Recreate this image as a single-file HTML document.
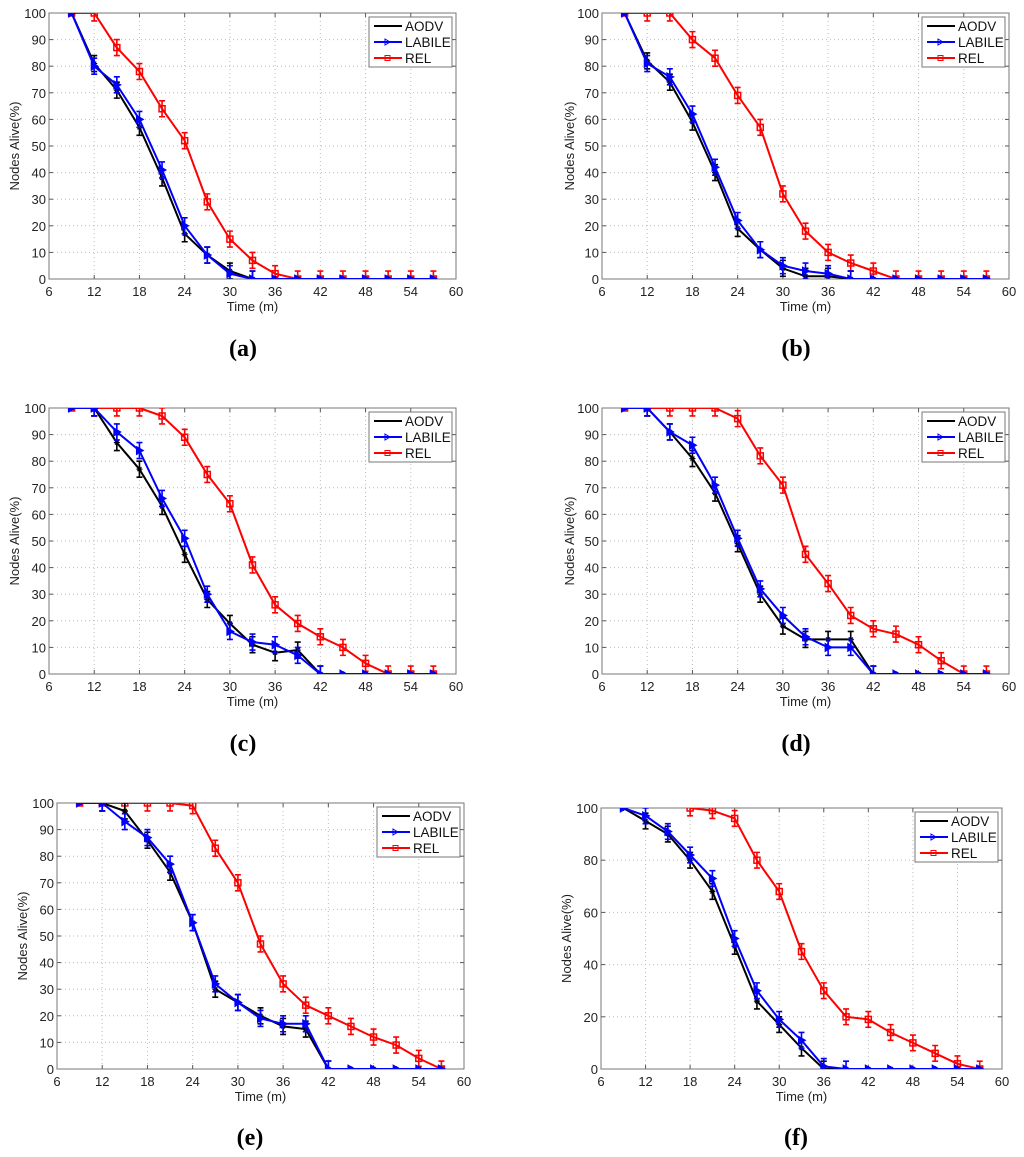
<!DOCTYPE html>
<html><head><meta charset="utf-8"><style>
body{margin:0;background:#fff;}
svg{display:block;}
text{font-family:"Liberation Sans",sans-serif;}
text.plabel{font-family:"Liberation Serif",serif;}
</style></head><body>
<svg id="fig" width="1024" height="1157" xmlns="http://www.w3.org/2000/svg"></svg>
<script>
const times=[9,12,15,18,21,24,27,30,33,36,39,42,45,48,51,54,57];
const aodvA=[100,81,71,57,38,17,9,3,0,0,0,0,0,0,0,0,0];
const labileA=[100,80,73,60,41,20,9,2,0,0,0,0,0,0,0,0,0];
const relA=[100,100,87,78,64,52,29,15,7,2,0,0,0,0,0,0,0];
const aodvB=[100,82,74,59,40,19,11,4,1,1,0,0,0,0,0,0,0];
const labileB=[100,81,76,62,42,22,11,5,3,2,0,0,0,0,0,0,0];
const relB=[100,100,100,90,83,69,57,32,18,10,6,3,0,0,0,0,0];
const aodvC=[100,100,87,77,63,45,28,19,11,8,9,0,0,0,0,0,0];
const labileC=[100,100,91,84,66,51,30,16,12,11,7,0,0,0,0,0,0];
const relC=[100,100,100,100,97,89,75,64,41,26,19,14,10,4,0,0,0];
const aodvD=[100,100,91,81,68,49,30,18,13,13,13,0,0,0,0,0,0];
const labileD=[100,100,91,86,71,51,32,22,14,10,10,0,0,0,0,0,0];
const relD=[100,100,100,100,100,96,82,71,45,34,22,17,15,11,5,0,0];
const aodvE=[100,100,97,86,74,55,30,25,20,16,15,0,0,0,0,0,0];
const labileE=[100,100,93,87,77,55,32,25,19,17,17,0,0,0,0,0,0];
const relE=[100,100,100,100,100,99,83,70,47,32,24,20,16,12,9,4,0];
const aodvF=[100,95,90,80,68,47,26,17,8,0,0,0,0,0,0,0,0];
const labileF=[100,97,91,82,73,50,30,19,11,1,0,0,0,0,0,0,0];
const relF=[null,null,null,100,99,96,80,68,45,30,20,19,14,10,6,2,0];
const errSize=3;
const xTicks=[6,12,18,24,30,36,42,48,54,60];
const yTicks10=[0,10,20,30,40,50,60,70,80,90,100];
const yTicks20=[0,20,40,60,80,100];
const NS="http://www.w3.org/2000/svg";
const fig=document.getElementById('fig');
function mk(tag,attrs,parent){const e=document.createElementNS(NS,tag);for(const k in attrs)e.setAttribute(k,attrs[k]);(parent||fig).appendChild(e);return e;}
const panels=[
 {id:'a',L:49,R:456,T:13,B:279,yl:14,yt:yTicks10,s:[aodvA,labileA,relA],lab:243,labY:348},
 {id:'b',L:602,R:1009,T:13,B:279,yl:569,yt:yTicks10,s:[aodvB,labileB,relB],lab:796,labY:348},
 {id:'c',L:49,R:456,T:408,B:674,yl:14,yt:yTicks10,s:[aodvC,labileC,relC],lab:243,labY:743},
 {id:'d',L:602,R:1009,T:408,B:674,yl:569,yt:yTicks10,s:[aodvD,labileD,relD],lab:796,labY:743},
 {id:'e',L:57,R:464,T:803,B:1069,yl:22,yt:yTicks10,s:[aodvE,labileE,relE],lab:250,labY:1137},
 {id:'f',L:601,R:1002,T:808,B:1069,yl:566,yt:yTicks20,s:[aodvF,labileF,relF],lab:796,labY:1137}
];
const colors=['#000','#0000ff','#ff0000'];
const names=['AODV','LABILE','REL'];
panels.forEach(p=>{
 const g=mk('g',{});
 
 
 const xs=v=>p.L+(v-6)/54*(p.R-p.L);
 const ys=v=>p.B-v/100*(p.B-p.T);
 const clipId='clip'+p.id;
 const cp=mk('clipPath',{id:clipId},g);mk('rect',{x:p.L,y:p.T,width:p.R-p.L,height:p.B-p.T},cp);
 xTicks.forEach(t=>{
  const x=xs(t);
  if(t>6&&t<60){const gl=mk('line',{x1:x,x2:x,y1:p.T,y2:p.B,stroke:'#bbb','stroke-dasharray':'1,3'},g);}
  mk('line',{x1:x,x2:x,y1:p.B,y2:p.B-4,stroke:'#555'},g);mk('line',{x1:x,x2:x,y1:p.T,y2:p.T+4,stroke:'#555'},g);
  const tx=mk('text',{x:x,y:p.B+17,'text-anchor':'middle','font-size':13,fill:'#222'},g);tx.textContent=t;
  
 });
 p.yt.forEach(t=>{
  const y=ys(t);
  if(t>0&&t<100){const gl=mk('line',{x1:p.L,x2:p.R,y1:y,y2:y,stroke:'#bbb','stroke-dasharray':'1,3'},g);}
  mk('line',{x1:p.L,x2:p.L+4,y1:y,y2:y,stroke:'#555'},g);mk('line',{x1:p.R,x2:p.R-4,y1:y,y2:y,stroke:'#555'},g);
  const tx=mk('text',{x:p.L-3,y:y+5,'text-anchor':'end','font-size':13,fill:'#222'},g);tx.textContent=t;
  
 });
 const box=mk('rect',{x:p.L,y:p.T,width:p.R-p.L,height:p.B-p.T,fill:'none',stroke:'#777','stroke-width':1},g);
 
 const xl=mk('text',{x:(p.L+p.R)/2,y:p.B+32,'text-anchor':'middle','font-size':13,fill:'#222'},g);xl.textContent='Time (m)';
 
 const cy=(p.T+p.B)/2;
 const yl=mk('text',{x:p.yl,y:cy,'text-anchor':'middle','font-size':13,fill:'#222',transform:`rotate(-90 ${p.yl} ${cy}) translate(0 5)`},g);yl.textContent='Nodes Alive(%)';
 
 const dg=mk('g',{'clip-path':`url(#${clipId})`},g);
 [2,0,1].forEach(si=>{
  const vals=p.s[si],c=colors[si];
  const sg=mk('g',{},dg);
  
  let d='';
  vals.forEach((v,i)=>{if(v===null)return;d+=(d?'L':'M')+xs(times[i]).toFixed(1)+','+ys(v).toFixed(1);});
  mk('path',{d:d,fill:'none',stroke:c,'stroke-width':2},sg);
  vals.forEach((v,i)=>{
   if(v===null)return;
   const x=xs(times[i]),y=ys(v);
   if(i>0&&!(si<2&&v===0&&i>0&&vals[i-1]===0)){
    const e=errSize;
    const eb=mk('path',{d:`M${x},${ys(v+e)}V${ys(v-e)}M${x-3},${ys(v+e)}h6M${x-3},${ys(v-e)}h6`,stroke:c,'stroke-width':1.6,fill:'none'},sg);
    
   }
   let m;
   if(si===0){m=mk('path',{d:`M${x-3},${y}h6M${x},${y-3}v6M${x-2},${y-2}l4,4M${x-2},${y+2}l4,-4`,stroke:c,'stroke-width':1.2},sg);}
   else if(si===1){m=mk('path',{d:`M${x-3},${y-4}L${x+4},${y}L${x-3},${y+4}Z`,fill:c,stroke:c,'stroke-width':1},sg);}
   else{m=mk('rect',{x:x-3,y:y-3,width:6,height:6,fill:'none',stroke:c,'stroke-width':1.5},sg);}
   
  });
 });
 const lg=mk('g',{},g);
 
 const lx=p.R-87,ly=p.T+4;
 mk('rect',{x:lx,y:ly,width:83,height:50,fill:'#fff',stroke:'#777'},lg);
 names.forEach((n,i)=>{
  const yy=ly+9+i*16;
  const le=mk('g',{},lg);
  
  mk('line',{x1:lx+5,x2:lx+33,y1:yy,y2:yy,stroke:colors[i],'stroke-width':2},le);
  if(i===1)mk('path',{d:`M${lx+16},${yy-3}L${lx+21},${yy}L${lx+16},${yy+3}Z`,fill:'none',stroke:colors[i]},le);
  if(i===2)mk('rect',{x:lx+16,y:yy-2.5,width:5,height:5,fill:'none',stroke:colors[i]},le);
  const t=mk('text',{x:lx+36,y:yy+5,'font-size':13.5,fill:'#111'},le);t.textContent=n;
 });
 const pl=mk('text',{class:'plabel',x:p.lab,y:p.labY+8,'text-anchor':'middle','font-size':24,'font-weight':'bold',fill:'#000'},g);
 pl.textContent='('+p.id+')';
 
});
</script>
</body></html>
